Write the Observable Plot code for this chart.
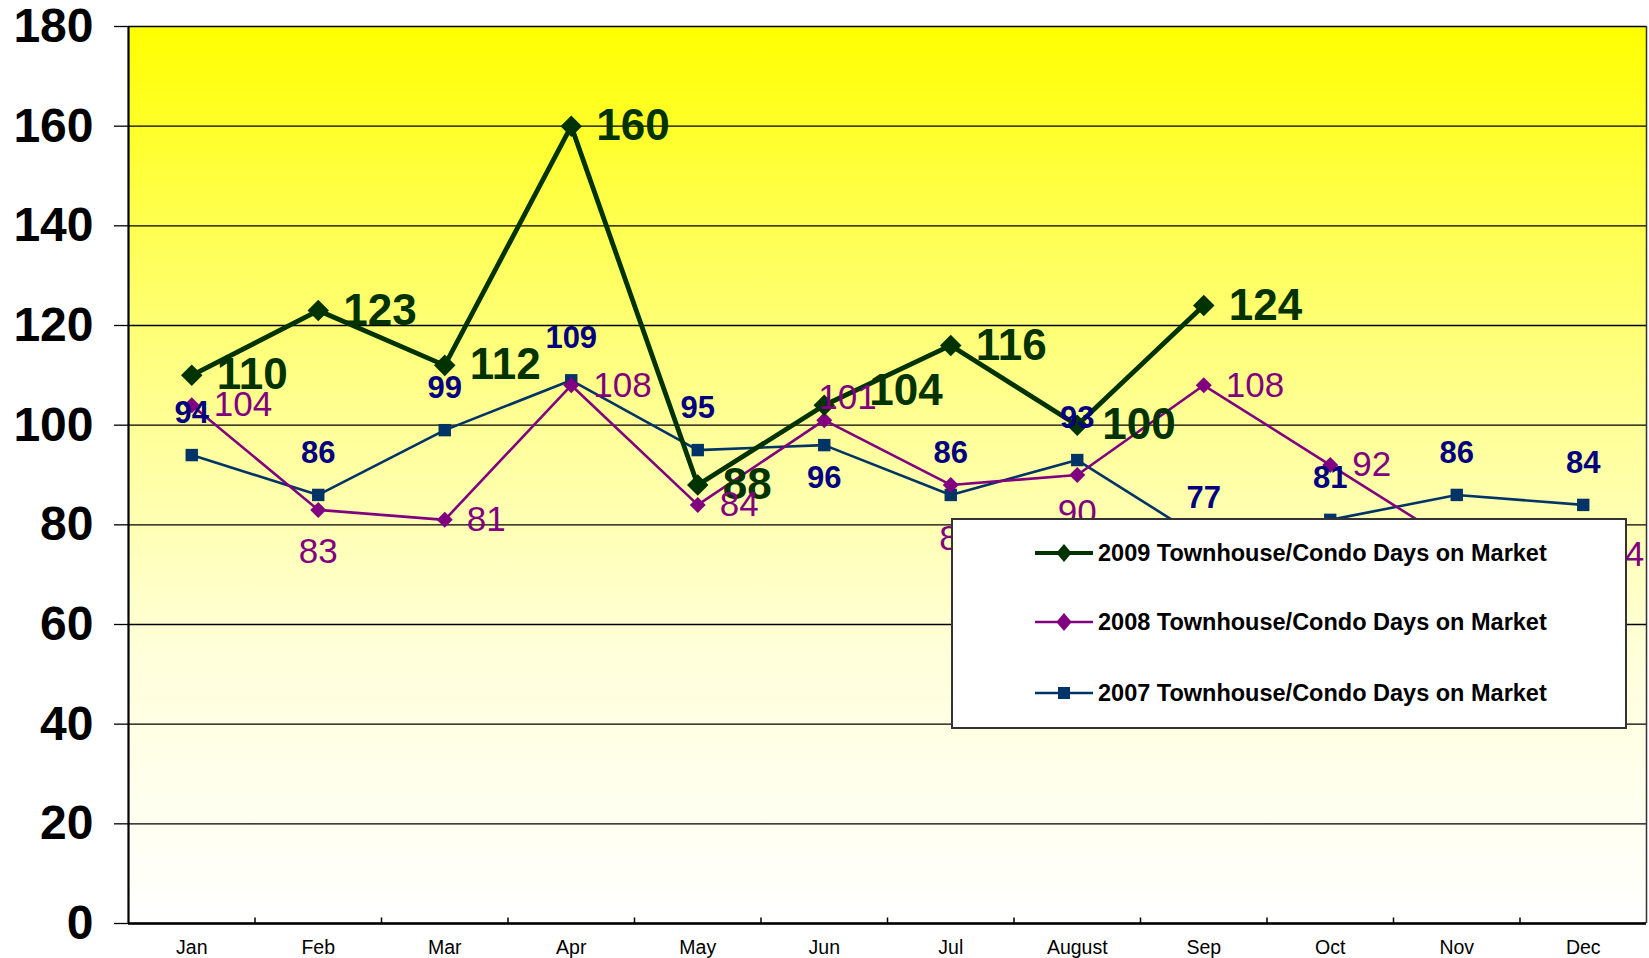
<!DOCTYPE html>
<html><head><meta charset="utf-8">
<script src="https://cdn.jsdelivr.net/npm/d3@7"></script>
<script src="https://cdn.jsdelivr.net/npm/@observablehq/plot@0.6"></script>
<style>
body{margin:0;background:#fff;font-family:"Liberation Sans",Arial,sans-serif;}
#wrap{position:relative;width:1649px;height:958px;}
#legend{position:absolute;left:951px;top:518px;width:676px;height:211px;box-sizing:border-box;border:2px solid #333;background:#fff;}
.item{position:absolute;left:82px;height:30px;display:flex;align-items:center;font-weight:bold;font-size:23.5px;color:#000;white-space:nowrap;}
.item svg{margin-right:5px;}
</style></head><body><div id="wrap"><div id="chart"></div><div id="legend"></div></div>
<script>
const months = ["Jan","Feb","Mar","Apr","May","Jun","Jul","August","Sep","Oct","Nov","Dec"];
const days2009 = [110,123,112,160,88,104,116,100,124,null,null,null];
const days2008 = [104,83,81,108,84,101,88,90,108,92,76,74];
const days2007 = [94,86,99,109,95,96,86,93,77,81,86,84];
const yTicks = [0,20,40,60,80,100,120,140,160,180];
const seriesNames = ["2009 Townhouse/Condo Days on Market","2008 Townhouse/Condo Days on Market","2007 Townhouse/Condo Days on Market"];

// label placement (layout only): [dx, dy, textAnchor] per month
const R9 = [25, 0, "start"], R8 = [22, 0, "start"], A7 = [0, -42, "middle"];
const labelPos2009 = [R9, R9, R9, R9, R9, [45, -14, "start"], R9, R9, R9, R9, R9, R9];
const labelPos2008 = [R8, [0, 42, "middle"], R8, R8, R8, [-6, -22, "start"], [8, 54, "middle"], [0, 38, "middle"], R8, R8, R8, R8];
const labelPos2007 = [A7, A7, A7, A7, A7, [0, 33, "middle"], A7, A7, A7, A7, A7, A7];

const colors = {g:"#003300", p:"#800080", b:"#003366", bl:"#000080"};

function rows(values, pos) {
  return months.map((m, i) => ({month: m, x: i + 0.5, value: values[i], pos: pos[i]}))
    .filter(d => d.value != null);
}
const r2009 = rows(days2009, labelPos2009);
const r2008 = rows(days2008, labelPos2008);
const r2007 = rows(days2007, labelPos2007);

function labels(data, style) {
  return data.map(d => Plot.text([d], {
    x: "x", y: "value", text: dd => String(dd.value),
    dx: d.pos[0], dy: d.pos[1], textAnchor: d.pos[2], ...style
  }));
}

const chart = Plot.plot({
  width: 1649, height: 958,
  marginLeft: 128, marginRight: 3, marginTop: 26, marginBottom: 35,
  style: {fontFamily: '"Liberation Sans", Arial, sans-serif', background: "#fff", overflow: "visible"},
  x: {domain: [0, 12]},
  y: {domain: [0, 180]},
  marks: [
    Plot.frame({fill: "url(#bgGrad)", stroke: null}),
    Plot.ruleY(yTicks, {stroke: "#000", strokeWidth: 1.3}),
    Plot.ruleX([12], {stroke: "#333", strokeWidth: 1.5}),
    Plot.ruleX(d3.range(1, 12), {y1: 0, y2: 1.1, stroke: "#000", strokeWidth: 1.5}),
    Plot.ruleX([0], {stroke: "#000", strokeWidth: 2.2}),
    Plot.ruleY([0], {stroke: "#000", strokeWidth: 2.5}),
    Plot.axisY(yTicks, {tickSize: 14, tickPadding: 21, fontSize: 48, fontWeight: "bold", fill: "#000", stroke: "#000", strokeWidth: 1.3, label: null, tickFormat: d => d}),
    Plot.axisX(months.map((m, i) => i + 0.5), {tickSize: 0, tickPadding: 17, fontSize: 19.5, fill: "#000", label: null, tickFormat: d => months[Math.floor(d)]}),
    // 2007
    Plot.line(r2007, {x: "x", y: "value", stroke: colors.b, strokeWidth: 2.6}),
    Plot.dot(r2007, {x: "x", y: "value", symbol: "square", r: 7, fill: colors.b, stroke: null}),
    // 2008
    Plot.line(r2008, {x: "x", y: "value", stroke: colors.p, strokeWidth: 2.6}),
    Plot.dot(r2008, {x: "x", y: "value", symbol: "diamond2", r: 7.2, fill: colors.p, stroke: null}),
    // 2009
    Plot.line(r2009, {x: "x", y: "value", stroke: colors.g, strokeWidth: 4.8}),
    Plot.dot(r2009, {x: "x", y: "value", symbol: "diamond2", r: 9.7, fill: colors.g, stroke: null}),
    // labels
    ...labels(r2009, {fontSize: 44, fontWeight: "bold", fill: colors.g}),
    ...labels(r2008, {fontSize: 35, fill: colors.p}),
    ...labels(r2007, {fontSize: 31, fontWeight: "bold", fill: colors.bl})
  ]
});

const svg = d3.select(chart);
const defs = svg.insert("defs", ":first-child");
const grad = defs.append("linearGradient").attr("id", "bgGrad").attr("x1", 0).attr("y1", 0).attr("x2", 0).attr("y2", 1);
[[0, "#FFFF00"], [0.2, "#FFFF4A"], [0.45, "#FFFF99"], [0.7, "#FFFFDA"], [1, "#FFFFFF"]].forEach(([o, c]) =>
  grad.append("stop").attr("offset", o).attr("stop-color", c));
document.getElementById("chart").appendChild(chart);

// legend
const legend = document.getElementById("legend");
const specs = [
  {name: seriesNames[0], color: colors.g, width: 4, shape: "diamond", size: 9},
  {name: seriesNames[1], color: colors.p, width: 2.6, shape: "diamond", size: 9},
  {name: seriesNames[2], color: colors.b, width: 2.6, shape: "square", size: 6}
];
const tops = [18, 87, 158];
specs.forEach((s, k) => {
  const item = document.createElement("div");
  item.className = "item";
  item.style.top = tops[k] + "px";
  const sw = d3.create("svg").attr("width", 58).attr("height", 30);
  sw.append("line").attr("x1", 0).attr("x2", 58).attr("y1", 15).attr("y2", 15).attr("stroke", s.color).attr("stroke-width", s.width);
  if (s.shape === "diamond") {
    sw.append("path").attr("d", `M29,${15 - s.size}L${29 + s.size * 0.85},15L29,${15 + s.size}L${29 - s.size * 0.85},15Z`).attr("fill", s.color);
  } else {
    sw.append("rect").attr("x", 29 - s.size).attr("y", 15 - s.size).attr("width", s.size * 2).attr("height", s.size * 2).attr("fill", s.color);
  }
  item.appendChild(sw.node());
  const t = document.createElement("span");
  t.textContent = s.name;
  item.appendChild(t);
  legend.appendChild(item);
});
</script></body></html>
